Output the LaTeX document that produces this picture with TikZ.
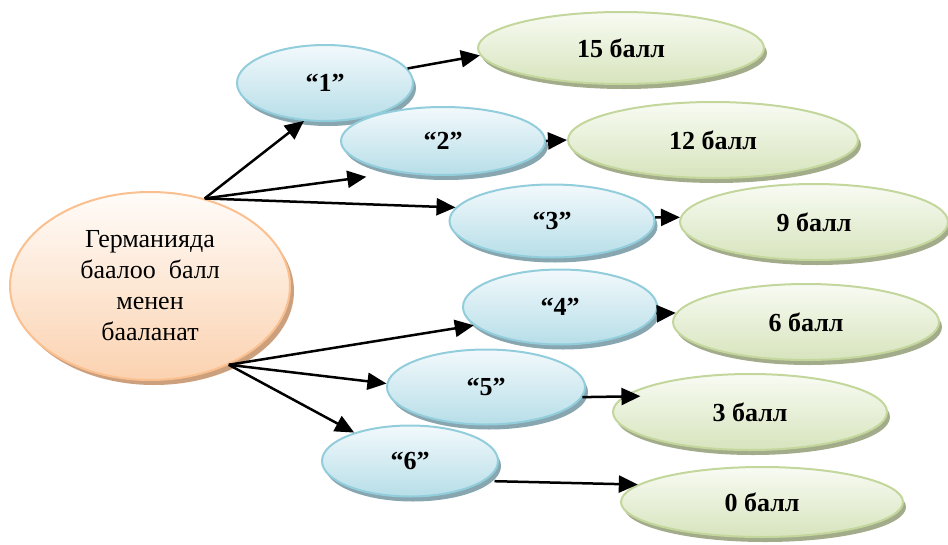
\documentclass[tikz,border=0pt]{standalone}
\usepackage{fontspec}
\setmainfont{Liberation Serif}
\usetikzlibrary{shapes.geometric}
\usetikzlibrary{shadows}
\usetikzlibrary{arrows.meta}

\definecolor{blueline}{RGB}{146,205,220}
\definecolor{bluetop}{RGB}{242,249,252}
\definecolor{bluebot}{RGB}{183,222,232}
\definecolor{blueshade}{RGB}{136,166,176}
\definecolor{greenline}{RGB}{195,214,155}
\definecolor{greentop}{RGB}{248,251,243}
\definecolor{greenbot}{RGB}{215,228,189}
\definecolor{greenshade}{RGB}{163,172,138}
\definecolor{orangeline}{RGB}{250,192,144}
\definecolor{orangetop}{RGB}{255,252,249}
\definecolor{orangebot}{RGB}{251,210,176}
\definecolor{orangeshade}{RGB}{205,160,125}

\begin{document}
\begin{tikzpicture}[x=1pt,y=-1pt,
  every node/.style={ellipse,inner sep=0pt,line width=2pt},
  rootnode/.style={draw=orangeline,top color=orangetop,bottom color=orangebot,
    general shadow={fill=orangeshade,shadow xshift=4pt,shadow yshift=-5pt},
    align=center,font=\fontsize{26}{31}\selectfont},
  grade/.style={draw=blueline,top color=bluetop,bottom color=bluebot,
    general shadow={fill=blueshade,shadow xshift=3pt,shadow yshift=-5pt},
    font=\fontsize{26}{30}\selectfont\bfseries},
  points/.style={draw=greenline,top color=greentop,bottom color=greenbot,
    general shadow={fill=greenshade,shadow xshift=3pt,shadow yshift=-5pt},
    font=\fontsize{26}{30}\selectfont\bfseries},
  link/.style={-{Triangle[length=19pt,width=17pt]},line width=2.5pt}]

  \useasboundingbox (0,0) rectangle (948,544);

  \node[rootnode,minimum width=280pt,minimum height=188pt] (de) at (150,286)
    {Германияда\\баалоо~ балл\\менен\\бааланат};

  % grades
  \node[grade,minimum width=176pt,minimum height=76pt] (n1) at (325,83)  {“1”};
  \node[grade,minimum width=204pt,minimum height=68pt] (n2) at (443,141) {“2”};
  \node[grade,minimum width=205pt,minimum height=73pt] (n3) at (552,221) {“3”};
  \node[grade,minimum width=194pt,minimum height=75pt] (n4) at (560,307) {“4”};
  \node[grade,minimum width=198pt,minimum height=75pt] (n5) at (486,387) {“5”};
  \node[grade,minimum width=176pt,minimum height=71pt] (n6) at (410,461) {“6”};

  % points
  \node[points,minimum width=286pt,minimum height=72pt] (b15) at (621,48)  {15 балл};
  \node[points,minimum width=290pt,minimum height=76pt] (b12) at (713,140) {12 балл};
  \node[points,minimum width=268pt,minimum height=76pt] (b9)  at (814,222) {9 балл};
  \node[points,minimum width=266pt,minimum height=76pt] (b6)  at (806,322) {6 балл};
  \node[points,minimum width=274pt,minimum height=76pt] (b3)  at (750,412) {3 балл};
  \node[points,minimum width=282pt,minimum height=70pt] (b0)  at (762,502) {0 балл};

  \draw[link] (de.58) -- (n1.241);
  \draw[link,shorten >=32pt] (de.58) -- (n2.215);
  \draw[link] (de.58) -- (n3.172);
  \draw[link] (de.-45) -- (n4.192);
  \draw[link] (de.-45) -- (n5.178);
  \draw[link] (de.-45) -- (n6.153);

  \draw[link] (n1.10) -- (b15.183);
  \draw[link] (n2.0) -- (b12.180);
  \draw[link] (n3.2) -- (b9.178);
  \draw[link] (n4.-4) -- (b6.176);
  \draw[link,shorten >=-17pt] (n5.-6) -- (b3.173);
  \draw[link,shorten <=10pt] (n6.-15) -- (b0.172);
\end{tikzpicture}
\end{document}
